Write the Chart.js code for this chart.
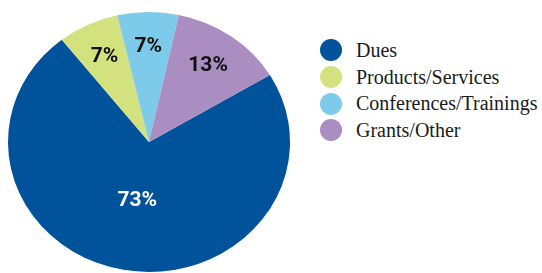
<!DOCTYPE html>
<html>
<head>
<meta charset="utf-8">
<script src="https://cdn.jsdelivr.net/npm/chart.js@4.4.1/dist/chart.umd.min.js"></script>
<style>
  html, body { margin: 0; padding: 0; background: #fff; overflow: hidden; width: 542px; height: 273px; }
  #pie { position: absolute; left: 0; top: 1px; }
  #legend {
    position: absolute; left: 320px; top: 37px; margin: 0; padding: 0; list-style: none;
    font-family: 'Liberation Serif', 'DejaVu Serif', serif; font-size: 20px; color: #1a1a1a;
  }
  #legend li { height: 26.7px; display: flex; align-items: center; white-space: nowrap; }
  #legend .dot { width: 22px; height: 22px; border-radius: 50%; margin-right: 14px; flex: none; }
</style>
</head>
<body>
<canvas id="pie" width="298" height="284"></canvas>
<ul id="legend"></ul>
<script>
// Fuentes de ingreso
const labels = ['Dues', 'Products/Services', 'Conferences/Trainings', 'Grants/Other'];
const shares = [73, 7, 7, 13];
const sliceColors = ['#00529b', '#d3e17f', '#7dcaeb', '#aa8dc1'];
const labelColors = ['#ffffff', '#111111', '#111111', '#111111'];

// el pastel original está algo achatado
const SQUASH = 0.922;
const labelDist = [0.46, 0.73, 0.73, 0.72];

// Leyenda en HTML
const legendEl = document.getElementById('legend');
labels.forEach((l, i) => {
  const li = document.createElement('li');
  li.innerHTML = `<span class="dot" style="background:${sliceColors[i]}"></span>${l}`;
  legendEl.appendChild(li);
});

const squashPlugin = {
  id: 'squash',
  beforeDatasetsDraw(chart) {
    const arc = chart.getDatasetMeta(0).data[0];
    const ctx = chart.ctx;
    ctx.save();
    ctx.translate(arc.x, arc.y);
    ctx.scale(1, SQUASH);
    ctx.translate(-arc.x, -arc.y);
  },
  afterDatasetsDraw(chart) {
    const ctx = chart.ctx;
    ctx.restore();
    // etiquetas de porcentaje
    ctx.save();
    ctx.font = "bold 21px Roboto, 'Liberation Sans', sans-serif";
    ctx.textAlign = 'center';
    ctx.textBaseline = 'middle';
    chart.getDatasetMeta(0).data.forEach((arc, i) => {
      const mid = (arc.startAngle + arc.endAngle) / 2;
      const r = arc.outerRadius * labelDist[i];
      const x = arc.x + Math.cos(mid) * r;
      const y = arc.y + Math.sin(mid) * r * SQUASH;
      ctx.fillStyle = labelColors[i];
      ctx.fillText(shares[i] + '%', x, y);
    });
    ctx.restore();
  }
};

new Chart(document.getElementById('pie'), {
  type: 'pie',
  data: {
    labels: labels,
    datasets: [{
      data: shares,
      backgroundColor: sliceColors,
      borderWidth: 0
    }]
  },
  options: {
    responsive: false,
    animation: false,
    events: [],
    rotation: 59,
    layout: { padding: { left: 8, right: 8, top: 0, bottom: 2 } },
    plugins: {
      legend: { display: false },
      tooltip: { enabled: false }
    }
  },
  plugins: [squashPlugin]
});
</script>
</body>
</html>
